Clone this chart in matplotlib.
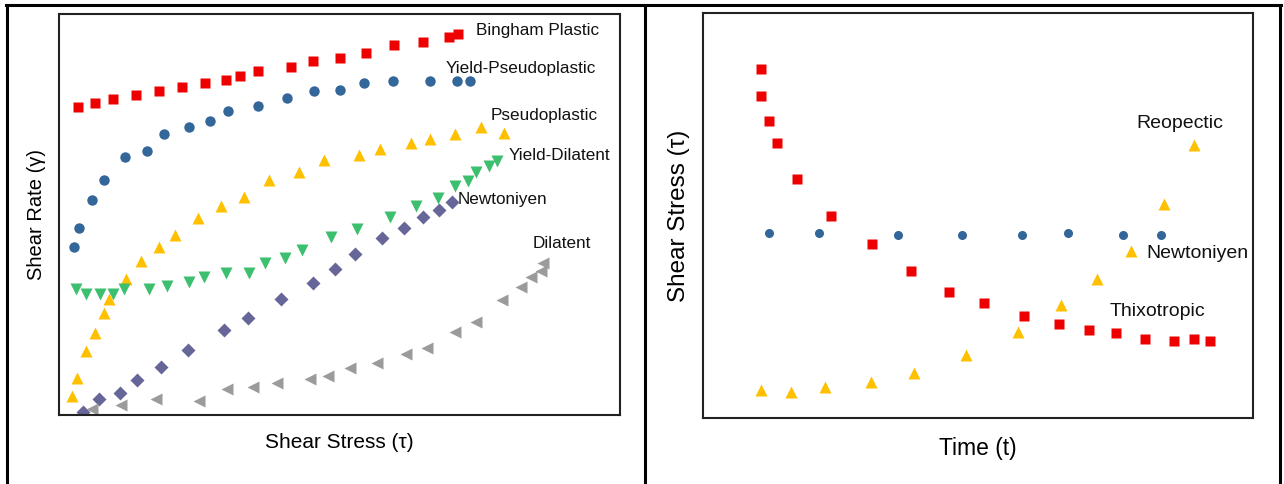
import matplotlib
matplotlib.use("Agg")
import matplotlib.pyplot as plt
from matplotlib.lines import Line2D

plt.rcParams['font.family'] = ['Liberation Sans', 'DejaVu Sans']

# ---------------- Left panel data (axes units 0-100) ----------------
bingham_x = [3.3, 6.4, 9.7, 13.7, 17.8, 22.0, 26.1, 29.7, 32.2, 35.5, 41.4, 45.2, 50.1, 54.8, 59.7, 64.9, 69.6, 71.1]
bingham_y = [76.9, 77.7, 78.7, 79.7, 80.9, 81.7, 82.9, 83.5, 84.6, 85.7, 86.8, 88.2, 89.1, 90.3, 92.2, 93.0, 94.3, 95.1]

ypseudo_x = [2.6, 3.5, 5.8, 8.1, 11.7, 15.6, 18.8, 23.2, 26.9, 30.1, 35.4, 40.7, 45.4, 50.0, 54.4, 59.5, 66.1, 70.9, 73.3]
ypseudo_y = [41.8, 46.7, 53.7, 58.6, 64.4, 65.9, 70.1, 71.8, 73.4, 75.8, 77.1, 79.1, 80.7, 81.1, 82.8, 83.2, 83.2, 83.2, 83.2]

pseudo_x = [2.3, 3.2, 4.8, 6.5, 8.1, 9.0, 12.0, 14.7, 17.9, 20.7, 24.7, 28.8, 32.9, 37.4, 42.7, 47.3, 53.5, 57.2, 62.7, 66.1, 70.6, 75.3, 79.3]
pseudo_y = [4.7, 9.2, 15.9, 20.4, 25.4, 29.0, 34.0, 38.5, 41.8, 45.0, 49.2, 52.0, 54.4, 58.6, 60.5, 63.5, 64.9, 66.4, 67.9, 68.9, 70.1, 71.7, 70.4]

ydil_x = [3.0, 4.8, 7.3, 9.6, 11.6, 16.1, 19.2, 23.1, 25.9, 29.8, 33.9, 36.8, 40.2, 43.4, 48.5, 53.2, 59.0, 63.6, 67.5, 70.5, 72.9, 74.3, 76.7, 78.0]
ydil_y = [31.4, 30.1, 30.2, 30.1, 31.3, 31.3, 32.2, 33.1, 34.3, 35.5, 35.5, 38.0, 39.2, 41.2, 44.4, 46.5, 49.4, 52.2, 54.2, 57.2, 58.4, 60.5, 62.1, 63.3]

newt_x = [4.2, 7.2, 10.8, 13.9, 18.2, 23.0, 29.4, 33.7, 39.6, 45.2, 49.2, 52.8, 57.6, 61.5, 64.8, 67.8, 70.1]
newt_y = [0.8, 4.1, 5.6, 8.7, 12.0, 16.2, 21.2, 24.1, 29.0, 32.8, 36.5, 40.2, 44.2, 46.6, 49.3, 51.2, 53.0]

dil_x = [5.9, 11.1, 17.3, 25.0, 29.9, 34.5, 38.9, 44.7, 47.9, 51.8, 56.6, 61.9, 65.6, 70.6, 74.3, 78.9, 82.3, 84.1, 85.9, 86.2]
dil_y = [1.6, 2.4, 4.1, 3.6, 6.5, 7.0, 8.1, 9.0, 9.8, 11.8, 13.0, 15.1, 16.7, 20.8, 23.3, 28.7, 32.0, 34.5, 36.0, 37.9]

left_labels = ["Bingham Plastic", "Yield-Pseudoplastic", "Pseudoplastic", "Yield-Dilatent", "Newtoniyen", "Dilatent"]
left_label_x = [74.3, 68.9, 76.9, 80.2, 71.1, 84.5]
left_label_y = [95.8, 86.3, 74.6, 64.7, 53.8, 42.8]

# ---------------- Right panel data (axes units 0-100) ----------------
thix_x = [10.5, 10.5, 12.0, 13.4, 17.1, 23.2, 30.7, 37.9, 44.8, 51.0, 58.3, 64.7, 70.2, 75.1, 80.4, 85.7, 89.2, 92.2]
thix_y = [86.1, 79.4, 73.3, 67.8, 59.0, 49.8, 42.9, 36.3, 31.0, 28.4, 25.2, 23.1, 21.8, 21.1, 19.5, 19.1, 19.5, 19.1]

rnewt_x = [12.0, 21.0, 35.5, 47.1, 58.0, 66.4, 76.4, 83.2]
rnewt_y = [45.6, 45.6, 45.3, 45.3, 45.3, 45.6, 45.3, 45.3]

reo_x = [10.6, 16.0, 22.2, 30.6, 38.3, 47.9, 57.2, 65.0, 71.7, 77.8, 83.8, 89.2]
reo_y = [7.0, 6.5, 7.7, 9.0, 11.1, 15.5, 21.2, 27.9, 34.4, 41.2, 52.8, 67.3]

right_labels = ["Reopectic", "Newtoniyen", "Thixotropic"]
right_label_x = [78.8, 80.6, 74.0]
right_label_y = [72.6, 40.5, 26.4]

RED = "#EE0000"
BLUE = "#336699"
ORANGE = "#FFC000"
GREEN = "#3CBF6E"
PURPLE = "#666699"
GRAY = "#9B9B9B"

W, H = 1284, 484
fig = plt.figure(figsize=(W / 100, H / 100), dpi=100)

def box(x0, y0, x1, y1):
    return [x0 / W, 1 - y1 / H, (x1 - x0) / W, (y1 - y0) / H]

ax1 = fig.add_axes(box(59, 14, 620, 415))
ax2 = fig.add_axes(box(703, 13, 1253, 418))

for ax in (ax1, ax2):
    ax.set_xlim(0, 100)
    ax.set_ylim(0, 100)
    ax.set_xticks([])
    ax.set_yticks([])
    for s in ax.spines.values():
        s.set_linewidth(1.5)
        s.set_color("#222222")

ms = 7.5
ax1.plot(bingham_x, bingham_y, ls='none', marker='s', ms=ms, color=RED, mec='none')
ax1.plot(ypseudo_x, ypseudo_y, ls='none', marker='o', ms=ms, color=BLUE, mec='none')
ax1.plot(pseudo_x, pseudo_y, ls='none', marker='^', ms=ms + 1.5, color=ORANGE, mec='none')
ax1.plot(ydil_x, ydil_y, ls='none', marker='v', ms=ms + 1.5, color=GREEN, mec='none')
ax1.plot(newt_x, newt_y, ls='none', marker='D', ms=ms - 0.5, color=PURPLE, mec='none')
ax1.plot(dil_x, dil_y, ls='none', marker='<', ms=ms + 1.5, color=GRAY, mec='none')

for t, x, y in zip(left_labels, left_label_x, left_label_y):
    ax1.text(x, y, t, ha='left', va='center', fontsize=12.3, color='#111111')

ax1.set_xlabel("Shear Stress (τ)", fontsize=15, labelpad=13)
ax1.set_ylabel("Shear Rate (γ)", fontsize=14.5, labelpad=9)

ms2 = 7
ax2.plot(thix_x, thix_y, ls='none', marker='s', ms=ms2, color=RED, mec='none')
ax2.plot(rnewt_x, rnewt_y, ls='none', marker='o', ms=ms2 - 0.5, color=BLUE, mec='none')
ax2.plot(reo_x, reo_y, ls='none', marker='^', ms=ms2 + 1, color=ORANGE, mec='none')

for t, x, y in zip(right_labels, right_label_x, right_label_y):
    ax2.text(x, y, t, ha='left', va='center', fontsize=14, color='#111111')

ax2.set_xlabel("Time (t)", fontsize=16.5, labelpad=14)
ax2.set_ylabel("Shear Stress (τ)", fontsize=17.5, labelpad=9)

# outer table frame
def fline(x0, y0, x1, y1, lw=2.2):
    fig.add_artist(Line2D([x0 / W, x1 / W], [1 - y0 / H, 1 - y1 / H], color='black', lw=lw, transform=fig.transFigure))

fline(6, 5, 1281, 5)
fline(7, 5, 7, 484)
fline(645, 5, 645, 484)
fline(1280, 5, 1280, 484)

fig.savefig("out.png", dpi=100)
